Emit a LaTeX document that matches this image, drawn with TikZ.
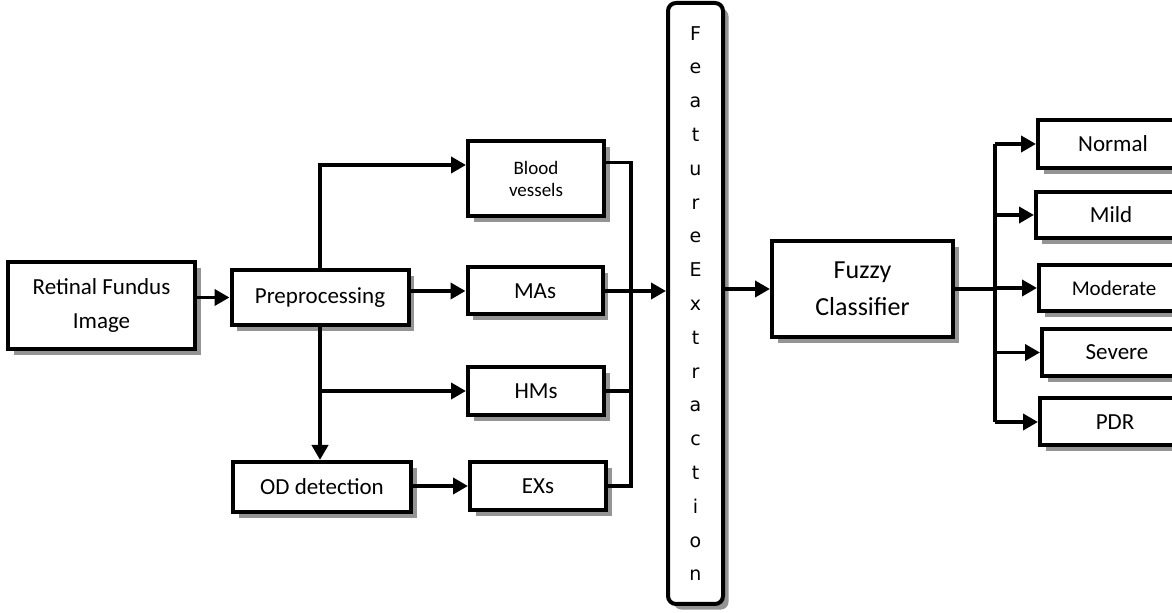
\documentclass[tikz,border=0pt]{standalone}
\usepackage{fontspec}
\setmainfont{Carlito}
\newfontfamily\featfont{DejaVu Sans}
\usetikzlibrary{arrows.meta,shadows}

\tikzset{
	blk/.style={draw, line width=2pt, fill=white, align=center, inner sep=0pt,
		general shadow={fill=black!42, shadow xshift=2.8pt, shadow yshift=-2.8pt},
		font=\fontsize{11.5}{17}\selectfont},
	wire/.style={line width=1.9pt},
	arr/.style={wire, -{Triangle[length=7.5pt,width=8pt]}}
}

\begin{document}
\begin{tikzpicture}[x=0.5pt, y=-0.5pt]
	\useasboundingbox (0,0) rectangle (1172,613);

	% left part
	\node[blk, minimum width=93.5pt, minimum height=43.5pt] (fundus) at (101.5,305.5) {Retinal Fundus\\Image};
	\node[blk, minimum width=88.5pt, minimum height=27.5pt] (pre) at (320,297.5) {Preprocessing};
	\node[blk, minimum width=89pt, minimum height=25pt] (od) at (322,487) {OD detection};

	\node[blk, minimum width=68pt, minimum height=37.5pt, font=\fontsize{9.5}{11}\selectfont] (blood) at (536,178.5) {Blood\\vessels};
	\node[blk, minimum width=67.5pt, minimum height=23.5pt] (mas) at (535,291) {MAs};
	\node[blk, minimum width=68pt, minimum height=24pt] (hms) at (536,391) {HMs};
	\node[blk, minimum width=68pt, minimum height=24pt] (exs) at (538,486) {EXs};

	% feature column
	\node[blk, rounded corners=4pt, minimum width=27.5pt, minimum height=300.5pt,
		font=\featfont\fontsize{9.5}{16.9}\selectfont] (feat) at (695.5,303.5)
		{F\\e\\a\\t\\u\\r\\e\\E\\x\\t\\r\\a\\c\\t\\i\\o\\n};

	% classifier and grades
	\node[blk, minimum width=90.5pt, minimum height=48pt, font=\fontsize{13}{18.5}\selectfont] (fuzzy) at (862.5,289) {Fuzzy\\Classifier};
	\node[blk, minimum width=75pt, minimum height=24pt] (normal) at (1113,144) {Normal};
	\node[blk, minimum width=75pt, minimum height=23pt] (mild) at (1111,215) {Mild};
	\node[blk, minimum width=75pt, minimum height=23pt, font=\fontsize{10.5}{12}\selectfont] (moderate) at (1114,288) {Moderate};
	\node[blk, minimum width=75pt, minimum height=23.5pt] (severe) at (1117,352.5) {Severe};
	\node[blk, minimum width=75pt, minimum height=23.5pt] (pdr) at (1115,422) {PDR};

	\coordinate (join) at (631,289);
	\coordinate (fork) at (995,288);

	% connectors
	\draw[arr] (fundus.east |- pre) -- (pre.west);
	\draw[arr] (pre.north) |- ([yshift=6.75pt]blood.west);
	\draw[arr] (pre.east |- mas) -- (mas.west);
	\draw[arr] (pre.south) -- (pre.south |- od.north);
	\draw[arr] (pre.south |- hms) -- (hms.west);
	\draw[arr] (od.east |- exs) -- (exs.west);

	\draw[wire] ([yshift=8pt]blood.east) -| (join |- exs.east) -- (exs.east);
	\draw[wire] (hms.east) -- (hms.east -| join);
	\draw[arr] (mas.east) -- (mas.east -| feat.west);

	\draw[arr] (feat.east |- fuzzy) -- (fuzzy.west);
	\draw[wire] (fuzzy.east) -- (fuzzy.east -| fork);
	\draw[wire] (fork |- normal) -- (fork |- pdr);
	\foreach \c in {normal,mild,moderate,severe,pdr}
		\draw[arr] (fork |- \c) -- (\c.west);

\end{tikzpicture}
\end{document}
